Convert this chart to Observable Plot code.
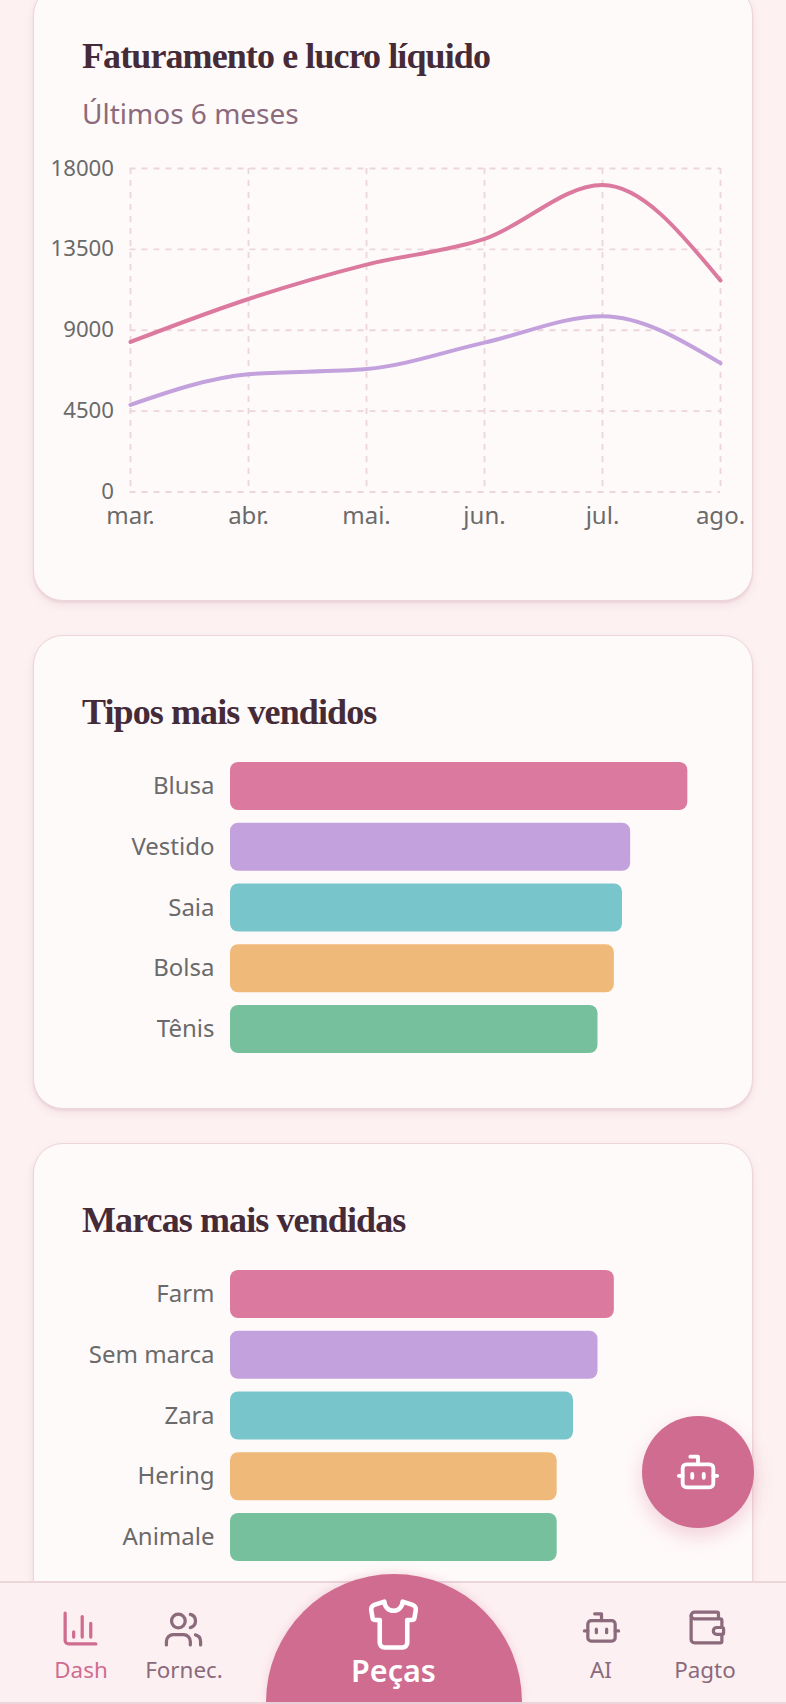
<!DOCTYPE html>
<html lang="pt-BR">
<head>
<meta charset="utf-8">
<script src="https://cdn.jsdelivr.net/npm/d3@7"></script>
<script src="https://cdn.jsdelivr.net/npm/@observablehq/plot@0.6"></script>
<style>
html,body{margin:0;padding:0;background:#fdf1f2;}
#page{position:relative;width:786px;height:1704px;overflow:hidden;background:#fdf1f2;font-family:"Noto Sans",sans-serif;}
.card{position:absolute;left:33px;width:720px;box-sizing:border-box;background:#fffafa;border:1.6px solid #ecd5db;border-radius:30px;box-shadow:0 2px 2px #ecd5db,0 4px 8px rgba(170,110,130,.12);}
.title{position:absolute;left:82px;margin:0;font-family:"Liberation Serif",serif;font-weight:700;font-size:36px;letter-spacing:-.9px;line-height:40px;color:#452a38;white-space:nowrap;}
.sub{position:absolute;left:82px;font-size:28px;line-height:34px;color:#8b6a7c;white-space:nowrap;}
.chart{position:absolute;left:0;}
.chart svg{display:block;overflow:visible;}
#nav{position:absolute;left:0;top:1581px;width:786px;height:121px;background:#fdf0f2;border-top:2px solid #ecd5db;box-sizing:border-box;}
#navline{position:absolute;left:0;top:1702px;width:786px;height:2px;background:#ecd5db;}
#dome{position:absolute;left:266px;top:1574px;width:256px;height:128px;background:#cf6c8f;border-radius:128px 128px 0 0;box-shadow:0 -2px 8px rgba(207,108,143,.2);}
#fab{position:absolute;left:642px;top:1416px;width:112px;height:112px;border-radius:50%;background:#cf6c8f;box-shadow:0 8px 20px rgba(207,108,143,.3);}
.ico{position:absolute;fill:none;stroke-linecap:round;stroke-linejoin:round;}
.lab{position:absolute;transform:translateX(-50%);font-size:22.4px;line-height:28px;white-space:nowrap;color:#8b6a7c;top:1656px;}
</style>
</head>
<body>
<div id="page">
  <div class="card" style="top:-15px;height:616px"></div>
  <div class="card" style="top:635px;height:474px"></div>
  <div class="card" style="top:1143px;height:640px"></div>
  <h2 class="title" style="top:36px">Faturamento e lucro líquido</h2>
  <div class="sub" style="top:96px">Últimos 6 meses</div>
  <div class="chart" id="c1" style="top:147px"></div>
  <h2 class="title" style="top:692px">Tipos mais vendidos</h2>
  <div class="chart" id="c2" style="top:762px"></div>
  <h2 class="title" style="top:1200px">Marcas mais vendidas</h2>
  <div class="chart" id="c3" style="top:1270px"></div>

  <div id="fab"></div>
  <svg class="ico" style="left:675px;top:1449px" width="46" height="46" viewBox="0 0 24 24" stroke="#fff" stroke-width="2"><path d="M12 8V4H8"/><rect width="16" height="12" x="4" y="8" rx="2"/><path d="M2 14h2"/><path d="M20 14h2"/><path d="M15 13v2"/><path d="M9 13v2"/></svg>

  <div id="nav"></div>
  <div id="navline"></div>
  <div id="dome"></div>
  <svg class="ico" style="left:59.6px;top:1607.5px" width="41" height="41" viewBox="0 0 24 24" stroke="#cf6c8f" stroke-width="1.9"><path d="M3 3v16a2 2 0 0 0 2 2h16"/><path d="M18 17V9"/><path d="M13 17V5"/><path d="M8 17v-3"/></svg>
  <svg class="ico" style="left:163.3px;top:1608.5px" width="41" height="41" viewBox="0 0 24 24" stroke="#8b6a7c" stroke-width="1.9"><path d="M16 21v-2a4 4 0 0 0-4-4H6a4 4 0 0 0-4 4v2"/><circle cx="9" cy="7" r="4"/><path d="M22 21v-2a4 4 0 0 0-3-3.87"/><path d="M16 3.13a4 4 0 0 1 0 7.75"/></svg>
  <svg class="ico" style="left:366px;top:1597px" width="55" height="55" viewBox="0 0 24 24" stroke="#fff" stroke-width="2"><path d="M20.38 3.46 16 2a4 4 0 0 1-8 0L3.62 3.46a2 2 0 0 0-1.34 2.23l.58 3.47a1 1 0 0 0 .99.84H6v10c0 1.1.9 2 2 2h8a2 2 0 0 0 2-2V10h2.15a1 1 0 0 0 .99-.84l.58-3.47a2 2 0 0 0-1.34-2.23z"/></svg>
  <svg class="ico" style="left:581px;top:1607px" width="41" height="41" viewBox="0 0 24 24" stroke="#8b6a7c" stroke-width="1.9"><path d="M12 8V4H8"/><rect width="16" height="12" x="4" y="8" rx="2"/><path d="M2 14h2"/><path d="M20 14h2"/><path d="M15 13v2"/><path d="M9 13v2"/></svg>
  <svg class="ico" style="left:686px;top:1607px" width="41" height="41" viewBox="0 0 24 24" stroke="#8b6a7c" stroke-width="1.9"><path d="M19 7V4a1 1 0 0 0-1-1H5a2 2 0 0 0 0 4h15a1 1 0 0 1 1 1v4h-3a2 2 0 0 0 0 4h3a1 1 0 0 0 1-1v-2a1 1 0 0 0-1-1"/><path d="M3 5v14a2 2 0 0 0 2 2h15a1 1 0 0 0 1-1v-4"/></svg>
  <div class="lab" style="left:81px;color:#cf6c8f">Dash</div>
  <div class="lab" style="left:184px">Fornec.</div>
  <div class="lab" style="left:393.5px;color:#fff;font-size:30.5px;font-weight:600;top:1650px;line-height:40px">Peças</div>
  <div class="lab" style="left:601px">AI</div>
  <div class="lab" style="left:705px">Pagto</div>
</div>
<script>
const months = ["mar.", "abr.", "mai.", "jun.", "jul.", "ago."];
const revenue = [8350, 10740, 12650, 14080, 17080, 11770];
const profit = [4850, 6550, 6840, 8310, 9780, 7170];
const yTicks = [0, 4500, 9000, 13500, 18000];

const typeNames = ["Blusa", "Vestido", "Saia", "Bolsa", "Tênis"];
const typeCounts = [56, 49, 48, 47, 45];
const brandNames = ["Farm", "Sem marca", "Zara", "Hering", "Animale"];
const brandCounts = [47, 45, 42, 40, 40];
const barColors = ["#db7a9e", "#c3a1dd", "#78c6cc", "#efb97a", "#76c09e"];

const gridColor = "#ecd5db";
const tickColor = "#6a6a6a";
const fontStyle = {fontFamily: '"Noto Sans", sans-serif', fontSize: "24px", background: "transparent", overflow: "visible"};

const lineChart = Plot.plot({
  width: 786, height: 377.5,
  marginLeft: 129.5, marginRight: 66, marginTop: 21, marginBottom: 33,
  style: fontStyle,
  x: {type: "point", domain: months, padding: 0},
  y: {domain: [0, 18000]},
  marks: [
    Plot.gridY(yTicks, {stroke: gridColor, strokeOpacity: 1, strokeDasharray: "6 6", strokeWidth: 1.8}),
    Plot.gridX(months, {stroke: gridColor, strokeOpacity: 1, strokeDasharray: "6 6", strokeWidth: 1.8}),
    Plot.axisY(yTicks, {anchor: "left", label: null, tickSize: 0, tickPadding: 16, tickFormat: d => String(d), fill: tickColor, fontSize: 22.2}),
    Plot.axisX(months, {anchor: "bottom", label: null, tickSize: 0, tickPadding: 15, fill: tickColor, fontSize: 24}),
    Plot.line(months, {x: d => d, y: (d, i) => revenue[i], curve: "monotone-x", stroke: barColors[0], strokeWidth: 4}),
    Plot.line(months, {x: d => d, y: (d, i) => profit[i], curve: "monotone-x", stroke: barColors[1], strokeWidth: 4})
  ]
});
document.getElementById("c1").append(lineChart);

function barChart(names, counts) {
  return Plot.plot({
    width: 786, height: 291,
    marginLeft: 230, marginRight: 66, marginTop: 0, marginBottom: 0,
    style: fontStyle,
    x: {domain: [0, 60], axis: null},
    y: {domain: names, paddingInner: 0.21, paddingOuter: 0, round: false, label: null},
    color: {domain: names, range: barColors},
    marks: [
      Plot.axisY(names, {anchor: "left", label: null, tickSize: 0, tickPadding: 16, fill: tickColor, fontSize: 24}),
      Plot.barX(names, {x: (d, i) => counts[i], y: d => d, fill: d => d, rx: 8})
    ]
  });
}
document.getElementById("c2").append(barChart(typeNames, typeCounts));
document.getElementById("c3").append(barChart(brandNames, brandCounts));
</script>
</body>
</html>
